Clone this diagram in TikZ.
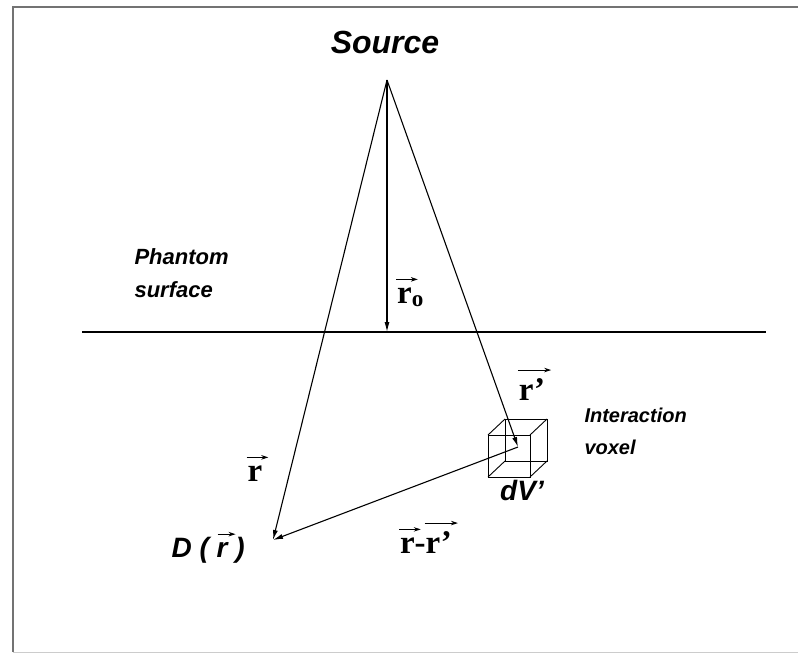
\documentclass[tikz,border=0pt]{standalone}
\usepackage{fontspec}
\setmainfont{Liberation Serif}
\newfontfamily\hv{Liberation Sans}
\usetikzlibrary{arrows.meta}
\newcommand\sanslab{\hv\bfseries\itshape}
% letter(s) with a vector arrow drawn above
\newcommand\vb[2][0pt]{\tikz[baseline=(vt.base)]{\node[inner sep=0pt,outer sep=0pt](vt){#2};\draw[overlay,line width=0.9pt,-{Stealth[length=7pt,width=4.5pt]}]([xshift=-1pt+#1,yshift=8pt]vt.north west)--([xshift=6pt+#1,yshift=8pt]vt.north east);}}
\tikzset{
  vec/.style={line width=1.1pt,-{Latex[length=10pt,width=5pt]}},
  cube/.style={line width=0.9pt},
  frame/.style={line width=1.6pt,draw=black!55},
  sanstxt/.style={font=\sanslab\fontsize{22}{33}\selectfont,align=left},
  rlab/.style={font=\bfseries\fontsize{33}{36}\selectfont,inner sep=0pt}
}
\begin{document}
\begin{tikzpicture}[x=1pt,y=-1pt]
\useasboundingbox (0,0) rectangle (798,656);
% frame
\coordinate (ftl) at (13,7);
\coordinate (ftr) at (798,7);
\coordinate (fbl) at (13,652);
\coordinate (fbr) at (798,652);
\draw[frame] (ftr) -- (ftl) -- (fbl);
\draw[line width=1pt,draw=black!20] (fbl) -- (fbr);
% key points
\coordinate (src) at (387,80);
\coordinate (foot) at (387,332);
\coordinate (D) at (273,540);
\coordinate (V) at (518,447);
\coordinate (sl) at (82,332);
\coordinate (sr) at (766,332);
% surface
\draw[line width=1.3pt] (sl) -- (sr);
% cube
\coordinate (f1) at (488,435); \coordinate (f2) at (530,435);
\coordinate (f3) at (530,477); \coordinate (f4) at (488,477);
\coordinate (b1) at (505,419); \coordinate (b2) at (547,419);
\coordinate (b3) at (547,461); \coordinate (b4) at (505,461);
\draw[cube] (f1) -- (f2) -- (f3) -- (f4) -- cycle;
\draw[cube] (b1) -- (b2) -- (b3) -- (b4) -- cycle;
\draw[cube] (f1) -- (b1) (f2) -- (b2) (f3) -- (b3) (f4) -- (b4);
% vectors
\draw[vec] (src) -- (foot);
\draw[vec] (src) -- (D);
\draw[vec] (src) -- (V);
\draw[vec] (V) -- (D);
% labels
\node[font=\sanslab\fontsize{32}{36}\selectfont] (source) at (385,42) {Source};
\node[sanstxt,anchor=west] (phantom) at (131,273) {Phantom\\surface};
\node[font=\sanslab\fontsize{20}{32}\selectfont,align=left,anchor=west] (inter) at (581,431) {Interaction\\voxel};
\node[font=\sanslab\fontsize{28}{32}\selectfont] (dv) at (522,490) {dV’};
\node[font=\sanslab\fontsize{28}{32}\selectfont,anchor=west] (Dr) at (168,550) {D ( \vb[2pt]{r} )};
\node[rlab,anchor=base west] (ro) at (397,303) {\vb{r}\textsubscript{o}};
\node[rlab,anchor=base] (rp) at (532,400) {\vb{r’}};
\node[rlab,anchor=base] (rr) at (255,481) {\vb{r}};
\node[rlab,anchor=base] (rmr) at (426,553) {\vb{r}-\vb{r’}};
\end{tikzpicture}
\end{document}
